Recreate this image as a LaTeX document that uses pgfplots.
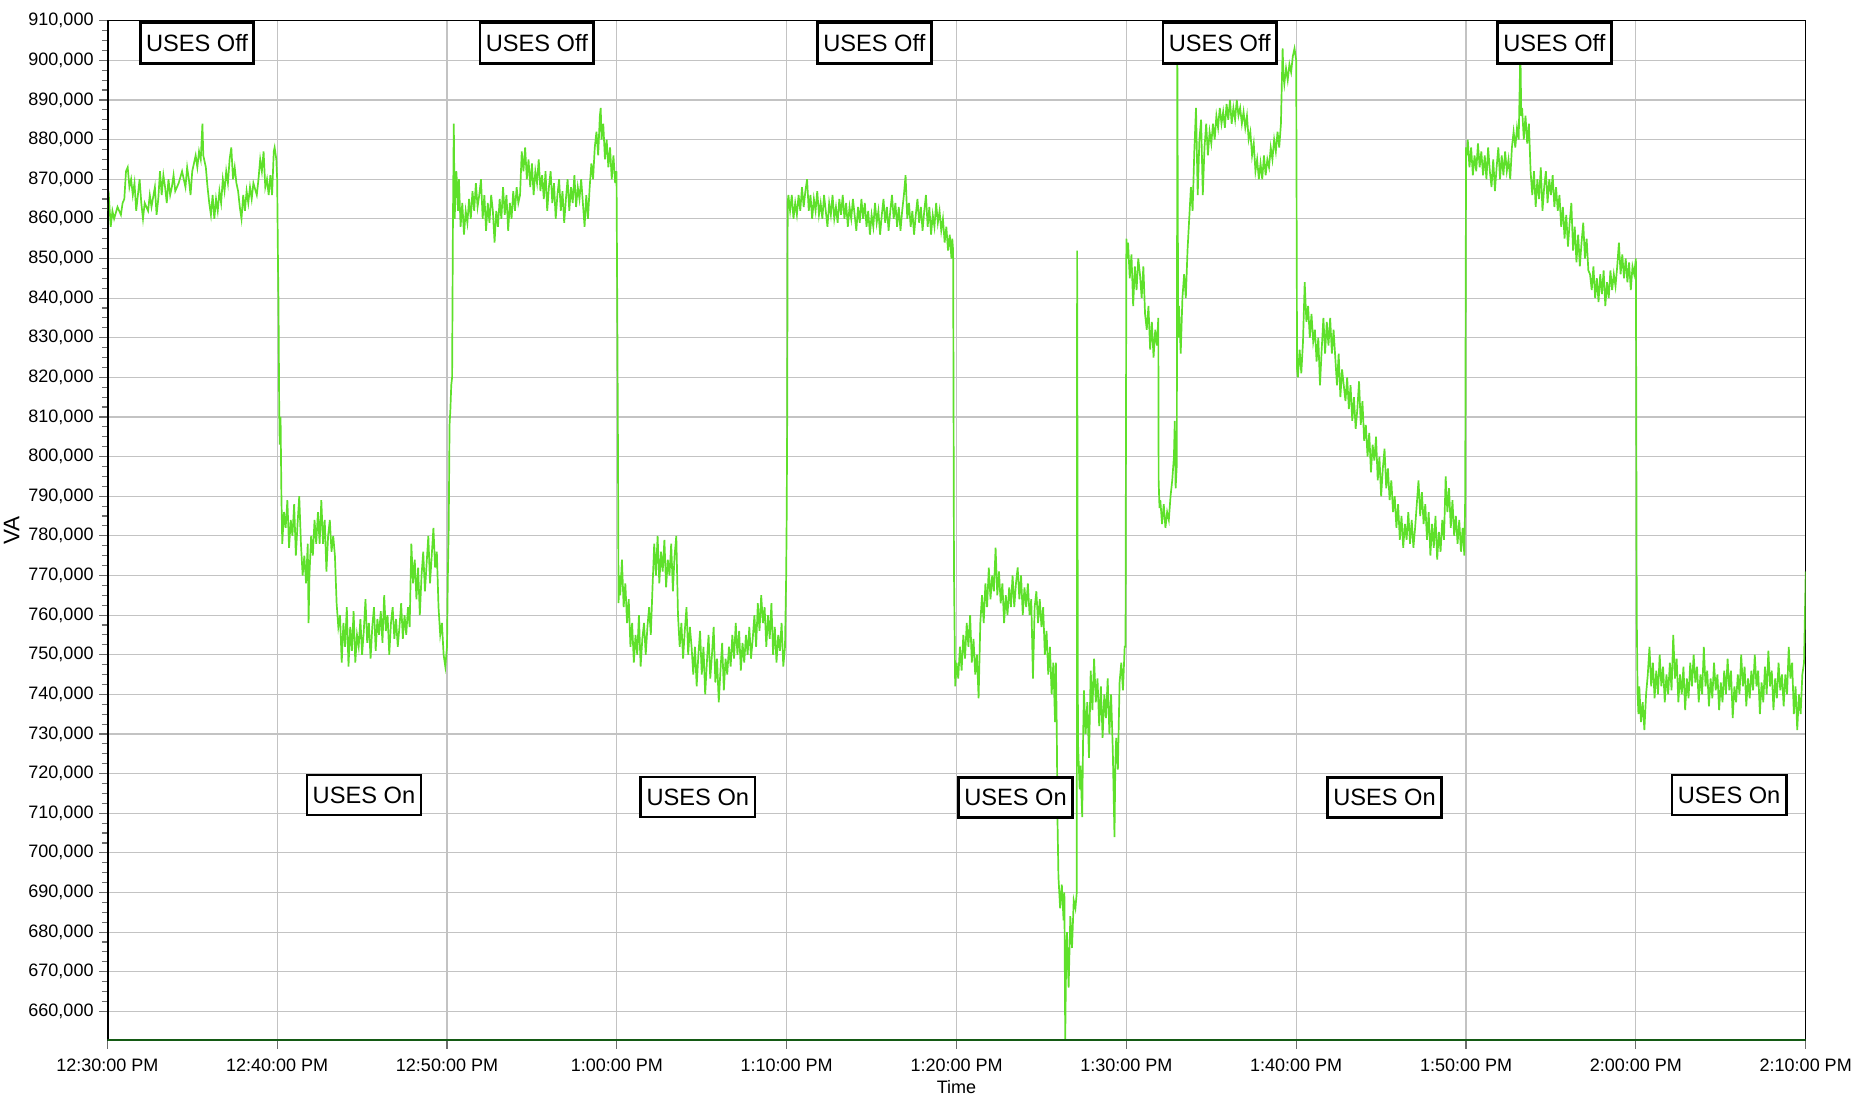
\documentclass[border=0pt]{standalone}
\usepackage{pgfplots}
\pgfplotsset{compat=1.18}
\usepackage{fontspec}
\setmainfont{Liberation Sans}
\definecolor{linegreen}{RGB}{94,224,42}
\definecolor{axgreen}{RGB}{20,90,20}
\definecolor{gridgray}{RGB}{195,195,195}
\definecolor{tickgray}{RGB}{110,110,110}
\begin{document}
\begin{tikzpicture}
\begin{axis}[
  scale only axis,
  width=754.8pt, height=453.3pt,
  at={(0,0)}, anchor=south west,
  xmin=0, xmax=100, ymin=652.6, ymax=910,
  xtick={0,10,...,100},
  xticklabels={12:30:00 PM,12:40:00 PM,12:50:00 PM,1:00:00 PM,1:10:00 PM,1:20:00 PM,1:30:00 PM,1:40:00 PM,1:50:00 PM,2:00:00 PM,2:10:00 PM},
  ytick={660,670,...,910},
  yticklabel={\pgfmathprintnumber[fixed,precision=0,assume math mode=true]{\tick},000},
  minor y tick num=3,
  tick align=outside,
  major tick length=3.6pt,
  minor tick length=2.4pt,
  every tick/.style={tickgray, line width=0.5pt},
  xtick pos=bottom, ytick pos=left,
  grid=major,
  major grid style={gridgray, line width=0.5pt},
  axis line style={black, line width=0.5pt},
  tick label style={font=\fontsize{8}{9.6}\selectfont},
  xticklabel style={yshift=-1pt},
  yticklabel style={xshift=1pt},
  xlabel={Time}, ylabel={VA},
  label style={font=\fontsize{8}{9.6}\selectfont},
  xlabel style={yshift=3pt},
  every axis y label/.style={at={(rel axis cs:0,0.5)}, xshift=-39.1pt, rotate=90, anchor=base},
  clip=true,
]
\addplot[linegreen, line width=0.75pt, no marks] coordinates {
(0.0,862)(0.1,865)(0.2,858)(0.3,862)(0.4,860)(0.6,863)(0.8,861)(0.9,864)(1.0,865)(1.1,872)(1.2,873)(1.3,868)(1.4,870)(1.5,866)(1.6,869)(1.7,862)(1.8,866)(1.9,870)
(2.0,864)(2.1,860)(2.2,864)(2.4,862)(2.5,866)(2.6,863)(2.8,868)(2.9,861)(3.0,865)(3.1,872)(3.2,866)(3.3,871)(3.4,868)(3.5,864)(3.6,870)(3.7,866)(3.8,868)(3.9,871)
(4.0,867)(4.2,869)(4.4,872)(4.6,868)(4.7,873)(4.8,870)(4.9,866)(5.0,872)(5.1,874)(5.2,876)(5.3,873)(5.4,877)(5.5,875)(5.6,884)(5.65,876)(5.8,873)(5.9,868)
(6.0,864)(6.1,861)(6.2,866)(6.3,860)(6.4,865)(6.5,862)(6.6,867)(6.7,864)(6.8,870)(6.9,867)(7.0,872)(7.1,869)(7.2,875)(7.3,878)(7.4,870)(7.5,873)(7.6,869)(7.7,867)(7.8,863)(7.9,860)
(8.0,866)(8.1,862)(8.2,867)(8.3,864)(8.4,868)(8.5,865)(8.6,869)(8.8,866)(8.9,870)(9.0,875)(9.1,872)(9.2,877)(9.3,868)(9.4,870)(9.5,866)(9.6,871)(9.7,866)(9.8,877)(9.85,878)(9.95,875)
(10.0,870)(10.05,848)(10.08,838)(10.12,812)(10.15,803)(10.2,810)(10.25,790)(10.3,778)(10.4,786)(10.5,782)(10.6,789)(10.7,777)(10.8,784)(10.9,780)
(11.0,788)(11.1,775)(11.2,783)(11.3,790)(11.4,778)(11.5,770)(11.6,775)(11.7,768)(11.8,778)(11.85,758)(11.9,770)
(12.0,780)(12.1,775)(12.2,784)(12.3,778)(12.4,786)(12.5,778)(12.6,789)(12.7,778)(12.8,784)(12.9,771)(13.0,780)(13.1,784)(13.2,776)(13.3,780)(13.4,775)
(13.5,763)(13.6,757)(13.7,760)(13.8,748)(13.9,758)(14.0,752)(14.1,762)(14.2,747)(14.3,757)(14.4,751)(14.5,761)(14.6,748)(14.7,755)(14.8,752)(14.9,759)
(15.0,750)(15.1,756)(15.2,764)(15.3,753)(15.4,758)(15.5,749)(15.6,757)(15.7,762)(15.8,751)(15.9,759)(16.0,755)(16.1,761)(16.2,753)(16.3,765)(16.4,756)(16.5,760)(16.6,750)(16.7,758)(16.8,762)(16.9,754)
(17.0,759)(17.1,752)(17.2,757)(17.3,763)(17.4,754)(17.5,760)(17.6,755)(17.7,762)(17.8,757)(17.9,778)(18.0,768)(18.1,774)(18.2,764)(18.3,772)(18.4,760)(18.5,770)(18.6,776)(18.7,766)(18.8,773)(18.9,780)
(19.0,768)(19.1,775)(19.2,782)(19.3,772)(19.4,776)(19.5,762)(19.6,755)(19.7,758)(19.8,750)(19.9,747)(20.0,752)(20.05,770)(20.1,782)(20.15,808)(20.2,812)(20.25,818)(20.3,820)(20.35,860)(20.4,884)(20.45,860)(20.5,866)
(20.55,872)(20.6,868)(20.65,862)(20.7,870)(20.8,858)(20.9,864)(21.0,856)(21.1,862)(21.2,859)(21.3,865)(21.4,860)(21.5,867)(21.6,862)(21.7,869)(21.8,863)(21.9,866)
(22.0,870)(22.1,860)(22.2,866)(22.3,857)(22.4,864)(22.5,859)(22.6,866)(22.7,862)(22.8,854)(22.9,862)(23.0,858)(23.1,865)(23.2,860)(23.3,868)(23.4,861)(23.5,866)(23.6,857)(23.7,864)(23.8,860)(23.9,867)
(24.0,862)(24.1,868)(24.2,864)(24.3,866)(24.4,877)(24.5,872)(24.6,878)(24.7,870)(24.8,875)(24.9,868)(25.0,874)(25.1,866)(25.2,872)(25.3,869)(25.4,875)(25.5,867)(25.6,871)(25.7,865)(25.8,872)(25.9,862)
(26.0,868)(26.1,872)(26.2,864)(26.3,869)(26.4,860)(26.5,866)(26.6,870)(26.7,862)(26.8,867)(26.9,859)(27.0,865)(27.1,870)(27.2,862)(27.3,868)(27.4,864)(27.5,871)(27.6,863)(27.7,868)(27.8,865)(27.9,870)
(28.0,864)(28.1,858)(28.2,866)(28.3,860)(28.4,868)(28.5,874)(28.6,870)(28.7,878)(28.8,882)(28.9,876)(29.0,886)(29.05,888)(29.1,880)(29.2,884)(29.3,875)(29.4,880)(29.5,873)(29.6,878)(29.7,870)(29.8,876)(29.9,869)(29.98,872)
(30.03,833)(30.06,808)(30.1,763)(30.15,770)(30.2,765)(30.3,774)(30.4,762)(30.5,768)(30.6,758)(30.7,764)(30.8,752)(30.9,758)(31.0,748)(31.1,755)(31.2,750)(31.3,760)(31.4,747)(31.5,754)(31.6,758)(31.7,750)(31.8,757)(31.9,762)
(32.0,755)(32.1,767)(32.2,778)(32.3,770)(32.4,780)(32.5,768)(32.6,776)(32.7,771)(32.8,779)(32.9,767)(33.0,774)(33.1,770)(33.2,778)(33.3,766)(33.4,775)(33.5,780)(33.6,760)(33.7,752)(33.8,758)(33.9,749)
(34.0,756)(34.1,762)(34.2,750)(34.3,757)(34.4,752)(34.5,745)(34.6,752)(34.7,742)(34.8,750)(34.9,756)(35.0,745)(35.1,752)(35.2,740)(35.3,748)(35.4,755)(35.5,744)(35.6,750)(35.7,757)(35.8,743)(35.9,749)
(36.0,738)(36.1,746)(36.2,753)(36.3,741)(36.4,749)(36.5,745)(36.6,752)(36.7,747)(36.8,755)(36.9,749)(37.0,758)(37.1,750)(37.2,756)(37.3,746)(37.4,753)(37.5,748)(37.6,755)(37.7,750)(37.8,757)(37.9,749)
(38.0,754)(38.1,760)(38.2,752)(38.3,763)(38.4,756)(38.5,765)(38.6,758)(38.7,762)(38.8,752)(38.9,760)(39.0,754)(39.1,763)(39.2,750)(39.3,757)(39.4,748)(39.5,755)(39.6,751)(39.7,758)(39.8,747)(39.9,752)
(39.97,770)(40.0,785)(40.03,810)(40.06,864)(40.1,866)(40.2,862)(40.3,866)(40.4,860)(40.5,864)(40.6,861)(40.7,866)(40.8,862)(40.9,868)(41.0,863)(41.1,867)(41.2,870)(41.3,862)(41.4,866)(41.5,860)(41.6,865)(41.7,862)(41.8,867)(41.9,861)
(42.0,864)(42.1,860)(42.2,866)(42.3,862)(42.4,858)(42.5,864)(42.6,861)(42.7,866)(42.8,860)(42.9,863)(43.0,859)(43.1,865)(43.2,861)(43.3,866)(43.4,860)(43.5,864)(43.6,858)(43.7,863)(43.8,860)(43.9,865)
(44.0,861)(44.1,857)(44.2,863)(44.3,859)(44.4,865)(44.5,860)(44.6,864)(44.7,858)(44.8,862)(44.9,856)(45.0,861)(45.1,858)(45.2,864)(45.3,859)(45.4,862)(45.5,856)(45.6,861)(45.7,865)(45.8,859)(45.9,863)
(46.0,857)(46.1,862)(46.2,866)(46.3,860)(46.4,864)(46.5,858)(46.6,863)(46.7,857)(46.8,862)(46.9,866)(47.0,871)(47.1,860)(47.2,864)(47.3,858)(47.4,862)(47.5,856)(47.6,861)(47.7,865)(47.8,859)(47.9,863)
(48.0,857)(48.1,862)(48.2,866)(48.3,858)(48.4,863)(48.5,856)(48.6,861)(48.7,858)(48.8,864)(48.9,859)(49.0,862)(49.1,857)(49.2,860)(49.3,854)(49.4,858)(49.5,852)(49.6,856)(49.7,850)(49.75,855)(49.8,852)(49.85,771)(49.92,742)
(50.0,748)(50.1,744)(50.2,752)(50.3,746)(50.4,755)(50.5,749)(50.6,758)(50.7,752)(50.8,760)(50.9,748)(51.0,754)(51.1,745)(51.2,750)(51.3,739)(51.4,758)(51.5,765)(51.6,758)(51.7,768)(51.8,762)(51.9,772)
(52.0,764)(52.1,770)(52.2,766)(52.3,777)(52.4,765)(52.5,771)(52.6,763)(52.7,768)(52.8,758)(52.9,765)(53.0,760)(53.1,767)(53.2,762)(53.3,770)(53.4,762)(53.5,768)(53.6,772)(53.7,764)(53.8,770)(53.9,760)
(54.0,767)(54.1,762)(54.2,768)(54.3,760)(54.4,764)(54.5,744)(54.6,762)(54.7,766)(54.8,758)(54.9,764)(55.0,757)(55.1,762)(55.2,750)(55.3,756)(55.4,745)(55.5,752)(55.6,740)(55.7,748)(55.8,733)(55.85,748)(55.9,732)(55.95,707)
(56.0,694)(56.1,686)(56.2,692)(56.3,683)(56.35,690)(56.4,653)(56.45,672)(56.5,680)(56.6,666)(56.7,684)(56.8,676)(56.9,688)(57.0,686)(57.08,690)(57.1,852)(57.15,728)(57.25,716)(57.3,722)(57.4,709)(57.45,728)
(57.5,741)(57.6,730)(57.7,738)(57.8,724)(57.9,746)(58.0,736)(58.1,749)(58.2,738)(58.3,744)(58.4,732)(58.5,742)(58.6,729)(58.7,740)(58.8,734)(58.9,744)(59.0,730)(59.1,740)(59.2,726)(59.3,704)(59.35,722)
(59.4,729)(59.5,721)(59.6,743)(59.7,748)(59.8,741)(59.9,752)(59.95,752)(60.0,855)(60.05,850)(60.1,854)(60.2,845)(60.3,851)(60.4,838)(60.5,848)(60.6,842)(60.7,850)(60.8,846)(60.9,840)
(61.0,848)(61.1,836)(61.2,832)(61.3,838)(61.4,827)(61.5,834)(61.6,825)(61.7,832)(61.8,828)(61.88,835)(61.9,794)(61.95,787)(62.0,789)(62.1,783)(62.2,788)(62.3,782)(62.4,786)(62.5,784)(62.6,790)(62.7,794)(62.8,800)(62.85,809)(62.9,792)(62.97,798)
(63.0,905)(63.05,830)(63.1,838)(63.2,826)(63.3,840)(63.4,846)(63.5,840)(63.6,852)(63.7,860)(63.8,868)(63.9,862)(64.0,877)(64.1,888)(64.2,866)(64.3,880)(64.4,885)(64.5,866)(64.6,878)(64.7,884)(64.8,876)(64.9,882)
(65.0,879)(65.1,884)(65.2,880)(65.3,886)(65.4,883)(65.5,888)(65.6,884)(65.7,887)(65.8,883)(65.9,889)(66.0,885)(66.1,890)(66.2,884)(66.3,888)(66.4,885)(66.5,890)(66.6,886)(66.7,888)(66.8,884)(66.9,887)
(67.0,883)(67.1,886)(67.2,880)(67.3,882)(67.4,876)(67.5,879)(67.6,872)(67.7,875)(67.8,870)(67.9,874)(68.0,870)(68.1,876)(68.2,871)(68.3,875)(68.4,873)(68.5,878)(68.6,875)(68.7,880)(68.8,877)(68.9,882)
(69.0,878)(69.1,884)(69.2,903)(69.25,896)(69.3,894)(69.4,898)(69.5,895)(69.6,899)(69.7,897)(69.8,901)(69.9,903)(70.0,900)(70.05,822)(70.1,820)(70.2,827)(70.3,821)(70.4,829)(70.5,844)(70.6,834)(70.7,838)(70.8,830)(70.9,836)
(71.0,829)(71.1,832)(71.2,824)(71.3,830)(71.4,818)(71.5,827)(71.6,835)(71.7,826)(71.8,834)(71.9,828)(72.0,835)(72.1,826)(72.2,832)(72.3,825)(72.4,818)(72.5,826)(72.6,815)(72.7,822)(72.8,818)(72.9,814)
(73.0,820)(73.1,812)(73.2,818)(73.3,809)(73.4,815)(73.5,807)(73.6,812)(73.7,819)(73.8,808)(73.9,814)(74.0,804)(74.1,808)(74.2,800)(74.3,806)(74.4,796)(74.5,803)(74.6,799)(74.7,805)(74.8,794)(74.9,800)
(75.0,790)(75.1,797)(75.2,802)(75.3,792)(75.4,797)(75.5,789)(75.6,794)(75.7,786)(75.8,790)(75.9,782)(76.0,788)(76.1,779)(76.2,785)(76.3,777)(76.4,783)(76.5,779)(76.6,786)(76.7,778)(76.8,784)(76.9,777)
(77.0,782)(77.1,788)(77.2,794)(77.3,785)(77.4,791)(77.5,783)(77.6,788)(77.7,779)(77.8,786)(77.9,775)(78.0,783)(78.1,777)(78.2,785)(78.3,774)(78.4,781)(78.5,776)(78.6,784)(78.7,779)(78.8,795)(78.9,786)
(79.0,792)(79.1,782)(79.2,789)(79.3,780)(79.4,785)(79.5,778)(79.6,784)(79.7,776)(79.8,782)(79.9,775)(79.95,790)(80.0,878)(80.05,876)(80.1,880)(80.2,873)(80.3,878)(80.4,871)(80.5,876)(80.6,872)(80.7,879)(80.8,873)(80.9,877)
(81.0,871)(81.1,876)(81.2,870)(81.3,878)(81.4,872)(81.5,868)(81.6,875)(81.7,867)(81.8,873)(81.9,878)(82.0,870)(82.1,876)(82.2,871)(82.3,877)(82.4,872)(82.5,875)(82.6,870)(82.7,878)(82.8,882)(82.9,878)
(83.0,883)(83.1,880)(83.2,903)(83.25,886)(83.3,888)(83.4,880)(83.5,886)(83.6,879)(83.7,884)(83.8,872)(83.9,866)(84.0,872)(84.1,863)(84.2,870)(84.3,865)(84.4,873)(84.5,862)(84.6,868)(84.7,872)(84.8,864)(84.9,870)
(85.0,866)(85.1,871)(85.2,863)(85.3,868)(85.4,862)(85.5,866)(85.6,858)(85.7,863)(85.8,855)(85.9,861)(86.0,853)(86.1,859)(86.2,864)(86.3,852)(86.4,858)(86.5,849)(86.6,856)(86.7,848)(86.8,854)(86.9,859)
(87.0,850)(87.1,855)(87.2,847)(87.3,846)(87.4,842)(87.5,848)(87.6,840)(87.7,845)(87.8,839)(87.9,846)(88.0,841)(88.1,847)(88.2,838)(88.3,844)(88.4,840)(88.5,847)(88.6,842)(88.7,846)(88.8,843)(88.9,848)
(89.0,854)(89.1,846)(89.2,851)(89.3,845)(89.4,850)(89.5,844)(89.6,849)(89.7,842)(89.8,848)(89.9,846)(90.0,850)(90.05,760)(90.1,740)(90.15,735)(90.2,742)(90.3,733)(90.4,738)(90.5,731)(90.6,740)(90.7,745)(90.8,752)(90.9,742)
(91.0,748)(91.1,739)(91.2,746)(91.3,740)(91.4,750)(91.5,742)(91.6,747)(91.7,738)(91.8,745)(91.9,740)(92.0,748)(92.1,741)(92.2,755)(92.3,744)(92.4,749)(92.5,738)(92.6,745)(92.7,740)(92.8,747)(92.9,736)
(93.0,744)(93.1,739)(93.2,748)(93.3,742)(93.4,750)(93.5,743)(93.6,747)(93.7,738)(93.8,745)(93.9,740)(94.0,752)(94.1,742)(94.2,746)(94.3,737)(94.4,744)(94.5,739)(94.6,748)(94.7,741)(94.8,745)(94.9,736)
(95.0,743)(95.1,738)(95.2,746)(95.3,740)(95.4,749)(95.5,741)(95.6,746)(95.7,734)(95.8,742)(95.9,738)(96.0,745)(96.1,740)(96.2,750)(96.3,742)(96.4,747)(96.5,737)(96.6,744)(96.7,739)(96.8,746)(96.9,741)
(97.0,750)(97.1,742)(97.2,746)(97.3,735)(97.4,743)(97.5,738)(97.6,747)(97.7,740)(97.8,751)(97.9,742)(98.0,746)(98.1,736)(98.2,744)(98.3,739)(98.4,748)(98.5,741)(98.6,745)(98.7,737)(98.8,745)(98.9,740)
(99.0,752)(99.1,744)(99.2,748)(99.3,735)(99.4,742)(99.5,731)(99.6,740)(99.7,735)(99.8,745)(99.9,748)(100.0,771)
};
\draw[black, line width=1.3pt] (rel axis cs:0,0) -- (rel axis cs:0,1);
\draw[axgreen, line width=1.3pt] (rel axis cs:0,0) -- (rel axis cs:1,0);
\tikzset{usesbox/.style={draw=black, line width=1.2pt, fill=white, inner xsep=2.6pt, inner ysep=5.2pt, font=\fontsize{10.5}{12}\selectfont}}
\node[usesbox] at (axis cs:5.28,904.4) {USES Off};
\node[usesbox] at (axis cs:25.29,904.4) {USES Off};
\node[usesbox] at (axis cs:45.16,904.4) {USES Off};
\node[usesbox] at (axis cs:65.5,904.4) {USES Off};
\node[usesbox] at (axis cs:85.2,904.4) {USES Off};
\node[usesbox] at (axis cs:15.11,714.6) {USES On};
\node[usesbox] at (axis cs:34.77,714.1) {USES On};
\node[usesbox] at (axis cs:53.47,714.0) {USES On};
\node[usesbox] at (axis cs:75.2,714.0) {USES On};
\node[usesbox] at (axis cs:95.49,714.6) {USES On};
\end{axis}
\pgfresetboundingbox
\useasboundingbox (-47.7pt,-25pt) rectangle (776.7pt,462.5pt);
\end{tikzpicture}
\end{document}
